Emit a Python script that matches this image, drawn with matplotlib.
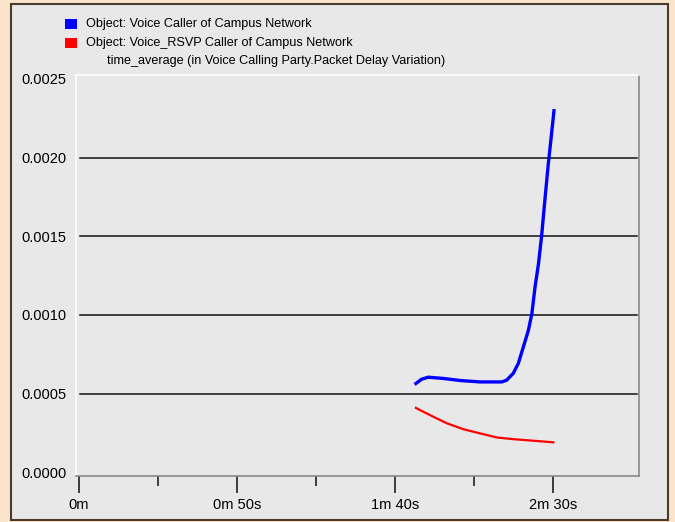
import matplotlib
matplotlib.use("Agg")
import matplotlib.pyplot as plt
from matplotlib.patches import Rectangle
from matplotlib.ticker import FixedLocator, FuncFormatter

# time in seconds, time_average packet delay variation
voice_t = [106.6, 108.4, 110.5, 115.3, 120.6, 126.9, 133.8, 135.3, 137.4, 139.0,
           140.6, 142.2, 143.3, 144.3, 145.4, 146.4, 147.5, 148.5, 149.3, 150.3]
voice_pdv = [0.000564, 0.000591, 0.000604, 0.000596, 0.000583, 0.000574, 0.000574,
             0.000585, 0.000628, 0.000691, 0.000796, 0.000902, 0.001008, 0.001177,
             0.001326, 0.001505, 0.001748, 0.001960, 0.002108, 0.002298]

rsvp_t = [106.6, 108.4, 112.2, 116.4, 121.7, 126.9, 132.2, 137.4, 142.7, 150.1]
rsvp_pdv = [0.000409, 0.000390, 0.000352, 0.000311, 0.000273, 0.000247, 0.000221,
            0.000210, 0.000202, 0.000190]

legend_labels = ["Object: Voice Caller of Campus Network",
                 "Object: Voice_RSVP Caller of Campus Network"]
stat_title = "time_average (in Voice Calling Party.Packet Delay Variation)"
y_ticks = [0.0, 0.0005, 0.0010, 0.0015, 0.0020, 0.0025]
x_major = [0, 50, 100, 150]
x_minor = [25, 75, 125]

W, H = 675, 522
plt.rcParams['font.family'] = ['Liberation Sans', 'DejaVu Sans']

fig = plt.figure(figsize=(W / 100, H / 100), dpi=100, facecolor='#fbe4cc')

# window panel
fig.patches.append(Rectangle((11 / W, 2 / H), 657 / W, 516 / H, transform=fig.transFigure,
                             facecolor='#e8e8e8', edgecolor='#4b3b2b', lw=1.5, zorder=-5))

ax = fig.add_axes([76 / W, 1 - 476 / H, 563 / W, 401 / H])
ax.set_zorder(2)
ax.set_facecolor('#e8e8e8')
ax.set_xlim(-0.95, 177.2)
ax.set_ylim(-0.000024, 0.002525)

for side in ['left', 'top']:
    ax.spines[side].set_color('white')
for side in ['right', 'bottom']:
    ax.spines[side].set_color('#8a8a8a')
for s in ax.spines.values():
    s.set_linewidth(1.2)

for v in y_ticks[1:-1]:
    ax.axhline(v, xmin=4 / 563, xmax=561 / 563, color='#111111', lw=1.1, zorder=1)

ax.plot(voice_t, voice_pdv, color='#0000ff', lw=2.4, zorder=3)
ax.plot(rsvp_t, rsvp_pdv, color='#ff0000', lw=1.6, zorder=3)

ax.yaxis.set_major_locator(FixedLocator(y_ticks))
ax.yaxis.set_major_formatter(FuncFormatter(lambda v, p: f"{v:.4f}"))
ax.tick_params(axis='y', length=0, pad=7, labelsize=10.5, colors='#000000')


def fmt_time(s, pos):
    m, sec = divmod(int(round(s)), 60)
    return f"{m}m" if sec == 0 else f"{m}m {sec}s"


ax.xaxis.set_major_locator(FixedLocator(x_major))
ax.xaxis.set_minor_locator(FixedLocator(x_minor))
ax.xaxis.set_major_formatter(FuncFormatter(fmt_time))
ax.tick_params(axis='x', which='major', length=12, width=1.2, color='#202020',
               pad=4, labelsize=10.5, labelcolor='#000000')
ax.tick_params(axis='x', which='minor', length=7, width=1.2, color='#202020')

# legend block
colors = ['#0000ff', '#ff0000']
for i, (lab, c) in enumerate(zip(legend_labels, colors)):
    yc = 24 + i * 19
    fig.patches.append(Rectangle((65 / W, 1 - (yc + 5) / H), 12 / W, 10 / H,
                                 transform=fig.transFigure, facecolor=c, edgecolor='none'))
    fig.text(86 / W, 1 - yc / H, lab, fontsize=9.1, va='center', ha='left', color='#000000')
fig.text(107 / W, 1 - 61 / H, stat_title, fontsize=9.1, va='center', ha='left', color='#000000')

fig.savefig('out.png', dpi=100, facecolor=fig.get_facecolor())
